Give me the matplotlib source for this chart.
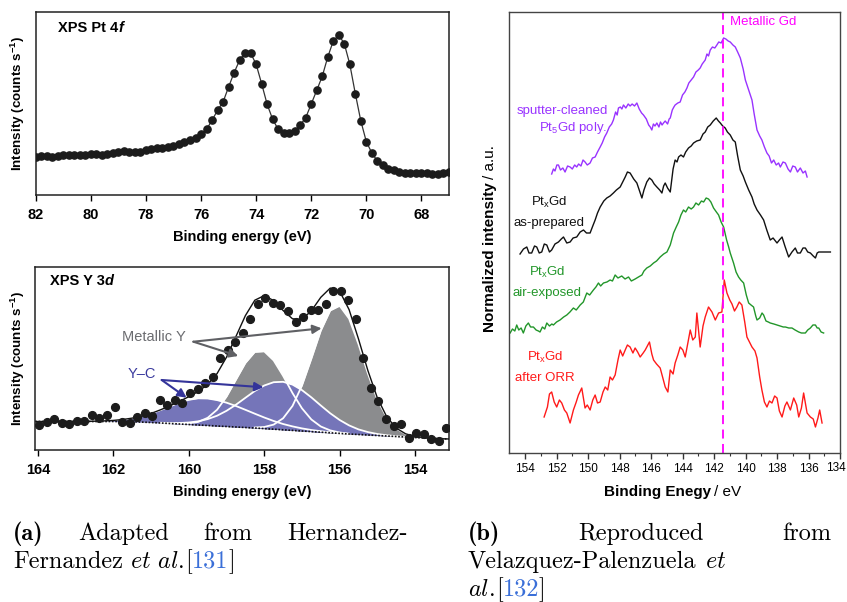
import numpy as np
import matplotlib
matplotlib.use("Agg")
import matplotlib.pyplot as plt

plt.rcParams["font.family"] = ["Liberation Sans", "DejaVu Sans"]
plt.rcParams["mathtext.fontset"] = "custom"
plt.rcParams["mathtext.rm"] = "Liberation Sans"
plt.rcParams["mathtext.it"] = "Liberation Sans:italic"
plt.rcParams["mathtext.bf"] = "Liberation Sans:bold"

# ---- data: XPS Pt 4f (dots every 0.2 eV)
pt_energy = np.linspace(82.0, 67.0, 76)
pt_counts = [38, 38.7, 39.3, 38.3, 39, 40, 40.3, 40, 39.7, 40.3,
             40.7, 40.7, 40, 41, 42, 43.3, 44.3, 42.7, 42.7, 43.3,
             44.7, 46, 47.3, 47.3, 47.7, 49.3, 51.3, 53.3, 55.3, 57.3,
             60.7, 65.7, 74.7, 84.7, 93, 108, 122.3, 134.7, 142.3, 142,
             130.7, 111.3, 90.7, 75.7, 65.7, 62, 62, 64, 70, 77.3,
             91, 104.7, 118.7, 138, 154, 160, 151.3, 130.7, 101.3, 74,
             53.3, 42, 34, 29.7, 26.3, 24.7, 23.3, 22.3, 22.3, 22,
             22, 21.7, 21.3, 21.3, 22.3, 23.3]

# ---- data: XPS Y 3d measured points
y_energy = np.linspace(163.97, 153.17, 55)
y_counts = [25, 28.3, 31, 26.7, 26, 29.3, 29, 35, 31.7, 35,
            42.7, 28.3, 27.3, 33.3, 36.7, 34.3, 50, 45, 50, 47.3,
            56.7, 61, 66.7, 72.7, 91.7, 100, 108.3, 117.3, 130.7, 145.7,
            151.7, 146.7, 145, 139.3, 127.7, 133.3, 140, 140, 145.7, 159.3,
            159.3, 150, 130.7, 91.7, 62.3, 49, 31, 24.3, 25.7, 11.7,
            16.7, 15.7, 11, 9, 21.7]

# fit components (height above background), 0.25 eV grid
fit_energy = np.linspace(164.25, 153.0, 46)
fit_bg = [28.5] * 9 + [28.5, 28.4, 28.2, 27.9, 27.5, 27.0, 26.5, 26.0, 25.5, 25.0,
                       24.5, 24.0, 23.5, 23.0, 22.5, 22.0, 21.4, 20.8, 20.2, 19.6,
                       19.0, 18.4, 17.8, 17.2, 16.6, 16.0, 15.5, 15.0, 14.5, 14.0,
                       13.5, 13.0, 12.5, 12.0, 11.6, 11.2, 10.9]
yc_low = [0, 0, 0, 0, 0, 0, 0.1, 0.3, 0.6,
          1.1, 2.1, 3.7, 6.0, 9.1, 13.0, 17.2, 21.4, 24.7, 26.7,
          27.0, 25.9, 23.8, 21.0, 17.7, 14.3, 11.1, 8.2, 5.8, 4.0,
          2.6, 1.6, 1.0, 0.5, 0.3, 0.1, 0, 0, 0, 0,
          0, 0, 0, 0, 0, 0, 0]
yc_high = [0] * 9 + [0, 0, 0, 0, 0, 0.2, 0.5, 1.0, 2.0, 3.7,
                     6.4, 10.3, 15.7, 22.3, 29.7, 37.0, 43.1, 47.0, 48.0, 45.8,
                     40.9, 34.2, 26.7, 19.5, 13.4, 8.6, 5.1, 2.9, 1.5, 0.7,
                     0.3, 0.1, 0, 0, 0, 0, 0]
ym_high = [0] * 9 + [0, 0, 0, 0, 0, 0, 0, 0.3, 1.1, 3.1,
                     7.7, 16.3, 29.9, 47.3, 64.5, 76.0, 77.2, 68.8, 54.0, 37.3,
                     22.7, 12.1, 5.7, 2.4, 0.9, 0.3, 0, 0, 0, 0,
                     0, 0, 0, 0, 0, 0, 0]
ym_low = [0] * 9 + [0, 0, 0, 0, 0, 0, 0, 0, 0, 0,
                    0, 0, 0, 0, 0, 0.5, 1.6, 4.6, 11.5, 24.5,
                    45.4, 72.9, 101.5, 122.3, 127.6, 115.4, 90.4, 61.4, 36.1, 18.4,
                    8.1, 3.1, 1.0, 0.3, 0, 0, 0]

# ---- data: Gd 4d spectra (panel b)
gd_clean_e = [152.31, 152.2, 152.1, 151.98, 151.88, 151.75, 151.6, 151.46, 151.3, 151.14,
              151.0, 150.85, 150.72, 150.6, 150.45, 150.32, 150.19, 150.05, 149.87, 149.72,
              149.55, 149.4, 149.23, 149.1, 148.95, 148.81, 148.65, 148.5, 148.39, 148.25,
              148.15, 148.07, 147.95, 147.85, 147.75, 147.6, 147.45, 147.33, 147.2, 147.05,
              146.9, 146.75, 146.6, 146.48, 146.3, 146.15, 146.05, 145.95, 145.85, 145.75,
              145.63, 145.5, 145.4, 145.3, 145.21, 145.1, 144.95, 144.85, 144.78, 144.65,
              144.55, 144.47, 144.3, 144.15, 144.0, 143.85, 143.72, 143.6, 143.45, 143.3,
              143.15, 143.0, 142.88, 142.75, 142.56, 142.45, 142.35, 142.24, 142.1, 141.95,
              141.82, 141.7, 141.55, 141.39, 141.25, 141.1, 140.97, 140.8, 140.65, 140.5,
              140.33, 140.15, 140.01, 139.8, 139.59, 139.45, 139.27, 139.1, 138.96, 138.8,
              138.64, 138.5, 138.35, 138.21, 138.05, 137.9, 137.79, 137.62, 137.47, 137.3,
              137.15, 137.0, 136.84, 136.7, 136.52, 136.35, 136.2, 136.09]
gd_clean_i = [278, 283, 281, 287, 287, 282, 284, 280, 286, 285,
              283, 287, 285, 288, 286, 292, 290, 287, 289, 294,
              295, 300, 305, 309, 315, 319, 325, 328, 332, 340,
              337, 344, 345, 343, 347, 344, 348, 346, 348, 346,
              349, 343, 339, 337, 333, 327, 325, 322, 328, 326,
              329, 325, 330, 327, 329, 331, 328, 333, 334, 342,
              345, 347, 349, 350, 357, 360, 364, 369, 372, 375,
              380, 382, 384, 388, 392, 398, 396, 402, 405, 404,
              407, 410, 409, 414, 413, 411, 410, 407, 405, 400,
              394, 383, 372, 362, 352, 338, 322, 316, 312, 305,
              299, 296, 289, 292, 287, 289, 285, 290, 289, 283,
              280, 286, 285, 280, 284, 279, 281, 275]

gd_prep_e = [154.32, 154.1, 153.89, 153.75, 153.58, 153.4, 153.26, 153.1, 152.94, 152.78,
             152.62, 152.45, 152.31, 152.1, 151.88, 151.7, 151.56, 151.35, 151.14, 150.95,
             150.72, 150.5, 150.29, 150.1, 149.87, 149.7, 149.55, 149.4, 149.23, 149.0,
             148.81, 148.6, 148.39, 148.2, 147.96, 147.8, 147.64, 147.5, 147.33, 147.1,
             146.9, 146.75, 146.58, 146.45, 146.27, 146.1, 145.95, 145.8, 145.63, 145.45,
             145.31, 145.2, 145.1, 144.95, 144.78, 144.6, 144.47, 144.35, 144.25, 144.1,
             143.94, 143.8, 143.62, 143.45, 143.3, 143.1, 142.88, 142.7, 142.56, 142.4,
             142.24, 142.05, 141.86, 141.72, 141.6, 141.45, 141.29, 141.15, 140.97, 140.8,
             140.65, 140.5, 140.33, 140.15, 140.01, 139.8, 139.59, 139.45, 139.27, 139.05,
             138.85, 138.65, 138.43, 138.25, 138.0, 137.85, 137.68, 137.5, 137.26, 137.05,
             136.84, 136.7, 136.52, 136.35, 136.2, 136.05, 135.88, 135.7, 135.56, 135.45,
             135.35, 134.61]
gd_prep_i = [198, 203, 205, 199, 199, 206, 205, 199, 200, 208,
             207, 200, 202, 208, 210, 213, 215, 209, 210, 214,
             215, 220, 222, 219, 219, 226, 232, 239, 245, 251,
             254, 256, 259, 262, 265, 270, 275, 280, 279, 273,
             269, 262, 254, 262, 270, 274, 272, 268, 265, 262,
             259, 266, 269, 264, 260, 283, 292, 290, 295, 297,
             295, 300, 304, 306, 309, 311, 312, 318, 320, 325,
             327, 331, 334, 331, 329, 326, 324, 320, 317, 312,
             310, 296, 282, 276, 270, 262, 255, 248, 242, 237,
             232, 222, 212, 214, 209, 212, 215, 206, 195, 200,
             204, 199, 199, 204, 204, 200, 199, 196, 194, 199,
             200, 200]

gd_air_e = [154.95, 154.8, 154.65, 154.53, 154.4, 154.25, 154.11, 153.95, 153.79, 153.65,
            153.47, 153.3, 153.15, 153.05, 152.9, 152.75, 152.62, 152.45, 152.3, 152.2,
            152.0, 151.78, 151.55, 151.35, 151.15, 150.93, 150.75, 150.5, 150.3, 150.08,
            149.9, 149.66, 149.5, 149.34, 149.2, 149.02, 148.8, 148.6, 148.45, 148.28,
            148.1, 147.86, 147.65, 147.43, 147.25, 147.01, 146.8, 146.58, 146.45, 146.27,
            146.05, 145.84, 145.65, 145.42, 145.2, 144.99, 144.78, 144.57, 144.4, 144.25,
            144.1, 143.94, 143.8, 143.62, 143.45, 143.3, 143.15, 142.98, 142.8, 142.66,
            142.5, 142.35, 142.2, 142.03, 141.85, 141.71, 141.55, 141.39, 141.2, 141.07,
            140.97, 140.76, 140.6, 140.44, 140.3, 140.12, 139.95, 139.8, 139.65, 139.49,
            139.35, 139.27, 139.1, 138.95, 138.85, 138.7, 138.55, 138.43, 138.2, 138.0,
            137.8, 137.6, 137.47, 137.25, 137.05, 136.85, 136.62, 136.45, 136.2, 136.05,
            135.88, 135.72, 135.56, 135.45, 135.35, 135.2, 135.04]
gd_air_i = [119, 123, 121, 127, 122, 124, 119, 126, 129, 125,
            125, 122, 121, 120, 125, 123, 129, 126, 128, 127,
            130, 132, 135, 137, 140, 144, 142, 147, 150, 159,
            157, 162, 165, 169, 166, 169, 170, 172, 171, 177,
            174, 176, 173, 175, 171, 173, 175, 177, 181, 184,
            186, 189, 191, 195, 198, 200, 207, 219, 225, 230,
            237, 242, 240, 245, 243, 245, 249, 247, 251, 250,
            254, 253, 250, 244, 240, 237, 230, 225, 212, 205,
            199, 189, 180, 175, 172, 169, 157, 149, 147, 145,
            136, 132, 134, 139, 137, 131, 130, 129, 128, 127,
            126, 125, 125, 124, 124, 122, 120, 119, 119, 122,
            124, 127, 127, 124, 124, 120, 119]

gd_orr_e = [152.79, 152.58, 152.45, 152.31, 152.15, 151.99, 151.82, 151.67, 151.5, 151.35,
            151.14, 150.93, 150.75, 150.61, 150.4, 150.19, 150.05, 149.87, 149.7, 149.55,
            149.4, 149.23, 149.05, 148.91, 148.75, 148.6, 148.45, 148.28, 148.1, 147.96,
            147.8, 147.64, 147.5, 147.33, 147.15, 147.01, 146.85, 146.69, 146.5, 146.37,
            146.1, 145.95, 145.84, 145.65, 145.42, 145.25, 145.1, 144.93, 144.78, 144.6,
            144.47, 144.3, 144.15, 143.98, 143.83, 143.65, 143.51, 143.35, 143.19, 143.09,
            142.88, 142.7, 142.56, 142.35, 142.13, 141.92, 141.71, 141.5, 141.35, 141.18,
            141.0, 140.86, 140.7, 140.55, 140.4, 140.23, 140.05, 139.91, 139.75, 139.59,
            139.4, 139.27, 139.1, 138.96, 138.8, 138.64, 138.48, 138.32, 138.15, 138.0,
            137.85, 137.68, 137.5, 137.37, 137.15, 136.94, 136.75, 136.62, 136.45, 136.31,
            136.09, 135.88, 135.7, 135.56, 135.4, 135.29, 135.14]
gd_orr_i = [35, 45, 58, 60, 50, 45, 52, 49, 42, 39,
            29, 42, 50, 57, 64, 44, 47, 42, 52, 57,
            49, 50, 60, 65, 62, 75, 72, 77, 92, 102,
            96, 102, 107, 105, 99, 104, 100, 95, 99, 102,
            110, 98, 92, 88, 84, 74, 65, 60, 82, 78,
            89, 97, 105, 102, 95, 110, 122, 112, 115, 139,
            105, 126, 135, 145, 140, 132, 139, 140, 172, 159,
            152, 148, 141, 145, 150, 147, 130, 115, 110, 105,
            101, 94, 75, 62, 50, 45, 51, 49, 56, 54,
            41, 35, 46, 50, 42, 54, 47, 35, 44, 59,
            39, 35, 33, 25, 34, 42, 29]

gd_metal = 141.4
b_ticks = np.arange(134, 155, 2)

W, H = 847, 602
fig = plt.figure(figsize=(W / 100, H / 100), dpi=100)
renderer = fig.canvas.get_renderer()


def chain(x, y, parts):
    # place text pieces one after another, x/y in figure pixels from top-left
    for s, gap, kw in parts:
        t = fig.text(x / W, 1 - y / H, s, va="baseline", ha="left", **kw)
        x = t.get_window_extent(renderer).x1 + gap
    return x


def justify(x0, x1, y, parts):
    # spread words evenly between x0 and x1 (like a justified LaTeX line)
    texts = [fig.text(0, 1 - y / H, s, va="baseline", ha="left", **kw) for s, kw in parts]
    widths = [t.get_window_extent(renderer).width for t in texts]
    gap = (x1 - x0 - sum(widths)) / (len(texts) - 1)
    x = x0
    for t, w in zip(texts, widths):
        t.set_x(x / W)
        x += w + gap


def style_xps(ax):
    for sp in ax.spines.values():
        sp.set_linewidth(1.1)
        sp.set_color("#222222")
    ax.set_yticks([])
    ax.tick_params(axis="x", direction="out", length=4, width=1, pad=5,
                   labelsize=10.5, top=False)
    for lb in ax.get_xticklabels():
        lb.set_fontweight("bold")


# ---------- panel (a) top: Pt 4f
ax1 = fig.add_axes([35.7 / W, 1 - 195 / H, 413.3 / W, 183 / H])
ax1.plot(pt_energy, pt_counts, color="#333333", lw=0.9, zorder=2)
ax1.plot(pt_energy, pt_counts, "o", color="#1c1c1c", ms=5.2, zorder=3)
ax1.set_xlim(82, 67)
ax1.set_ylim(0, 183)
ax1.set_xticks(np.arange(82, 67, -2))
style_xps(ax1)
ax1.set_xlabel("Binding energy (eV)", fontweight="bold", fontsize=10.5, labelpad=6)
chain(58, 32, [("XPS Pt 4", 0, dict(fontsize=10.5, fontweight="bold")),
               ("f", 0, dict(fontsize=10.5, fontweight="bold", fontstyle="italic"))])

# ---------- panel (a) bottom: Y 3d
ax2 = fig.add_axes([35 / W, 1 - 450 / H, 414 / W, 183 / H])
bg = np.array(fit_bg)
gray = "#8b8c8e"
blue = "#7575b9"
for comp, col in [(ym_high, gray), (ym_low, gray), (yc_low, blue), (yc_high, blue)]:
    c = np.array(comp)
    top = bg + c
    ax2.fill_between(fit_energy, bg, top, where=c > 0.05, color=col, lw=0, zorder=1)
    ax2.plot(fit_energy[c > 0.05], top[c > 0.05], color="white", lw=1.3, zorder=1.5)
envelope = bg + np.array(yc_low) + np.array(yc_high) + np.array(ym_high) + np.array(ym_low)
ax2.plot(fit_energy, bg, color="#111111", lw=1.2, ls=(0, (1, 1)), zorder=2)
ax2.plot(fit_energy, envelope, color="#111111", lw=1.0, zorder=2.5)
ax2.plot(y_energy, y_counts, "o", color="#1c1c1c", ms=5.6, zorder=3)
ax2.set_xlim(164.08, 153.1)
ax2.set_ylim(0, 183)
ax2.set_xticks(np.arange(164, 153, -2))
style_xps(ax2)
ax2.set_xlabel("Binding energy (eV)", fontweight="bold", fontsize=10.5, labelpad=6)
chain(50, 285, [("XPS Y 3", 0, dict(fontsize=10.5, fontweight="bold")),
                ("d", 0, dict(fontsize=10.5, fontweight="bold", fontstyle="italic"))])

ax2.text(161.77, 113, "Metallic Y", color="#6b6c70", fontsize=10.5, va="center", ha="left")
for end in [(156.48, 121.7), (158.69, 94)]:
    ax2.annotate("", xy=end, xytext=(159.88, 108.3),
                 arrowprops=dict(arrowstyle="-|>", color="#5f6064", lw=1.5,
                                 mutation_scale=13, shrinkA=0, shrinkB=0))
ax2.text(161.62, 76, "Y\u2013C", color="#3b3b9e", fontsize=10.5, va="center", ha="left")
for end in [(160.06, 52.3), (158.02, 62.7)]:
    ax2.annotate("", xy=end, xytext=(160.72, 70),
                 arrowprops=dict(arrowstyle="-|>", color="#34349a", lw=1.5,
                                 mutation_scale=13, shrinkA=0, shrinkB=0))

for y0 in (103.5, 358.5):
    fig.text(18 / W, 1 - y0 / H, "Intensity (counts s$^{\\mathbf{-1}}$)", rotation=90,
             ha="center", va="center", fontsize=9.6, fontweight="bold")

# ---------- panel (b): Gd 4d
ax3 = fig.add_axes([509 / W, 1 - 453 / H, 331 / W, 441 / H])
ax3.plot(gd_clean_e, gd_clean_i, color="#9933ff", lw=1.0)
ax3.plot(gd_prep_e, gd_prep_i, color="#111111", lw=1.0)
ax3.plot(gd_air_e, gd_air_i, color="#22962a", lw=1.0)
ax3.plot(gd_orr_e, gd_orr_i, color="#ff1a1a", lw=1.0)
ax3.axvline(gd_metal, color="#ff00ff", lw=1.3, ls=(0, (5, 3)))
ax3.set_xlim(155.02, 134.0)
ax3.set_ylim(-1, 440)
ax3.set_xticks(b_ticks)
ax3.set_xticklabels([str(v) if v != 134 else "" for v in b_ticks])
ax3.set_xticks(np.arange(135, 155, 2), minor=True)
ax3.set_yticks([])
ax3.tick_params(axis="x", which="major", direction="out", length=4, width=1,
                labelsize=8.5, pad=3, color="#333333")
ax3.tick_params(axis="x", which="minor", direction="out", length=2.5, width=0.8,
                color="#333333")
for sp in ax3.spines.values():
    sp.set_color("#444444")
    sp.set_linewidth(1.0)
# last tick label pulled in so it stays inside the figure
fig.text(846 / W, 1 - 468 / H, "134", fontsize=8.5, ha="right", va="center")

ax3.text(140.97, 430, "Metallic Gd", color="#ff00ff", fontsize=9.5, va="center")
lab = dict(fontsize=9.5, ha="right", va="center")
ax3.text(148.72, 341, "sputter-cleaned", color="#9933ff", **lab)
ax3.text(148.75, 324, "Pt$_5$Gd poly.", color="#9933ff", **lab)
lab = dict(fontsize=9.5, ha="center", va="center")
ax3.text(152.47, 250, "Pt$_{\\mathrm{x}}$Gd", color="#111111", **lab)
ax3.text(152.47, 229, "as-prepared", color="#111111", **lab)
ax3.text(152.6, 180, "Pt$_{\\mathrm{x}}$Gd", color="#22962a", **lab)
ax3.text(152.6, 159, "air-exposed", color="#22962a", **lab)
ax3.text(152.73, 95, "Pt$_{\\mathrm{x}}$Gd", color="#ff1a1a", **lab)
ax3.text(152.73, 74, "after ORR", color="#ff1a1a", **lab)

chain(604, 496, [("Binding Enegy", 3, dict(fontsize=11, fontweight="bold")),
                 ("/ eV", 0, dict(fontsize=11))])
t1 = fig.text(490 / W, 1 - 332 / H, "Normalized intensity", rotation=90, ha="center",
              va="bottom", fontsize=11, fontweight="bold")
y1 = t1.get_window_extent(renderer).y1
fig.text(490 / W, (y1 + 3) / H, "/ a.u.", rotation=90, ha="center", va="bottom", fontsize=11)

# ---------- captions
cap = dict(fontsize=17.5, family="cmr10")
capb = dict(fontsize=17.5, family="cmb10")
capi = dict(fontsize=17.5, math_fontfamily="cm")
capc = dict(fontsize=17.5, family="cmr10", color="#3a6fd8")
justify(13, 408, 540, [("(a)", capb), ("Adapted", cap), ("from", cap), ("Hernandez-", cap)])
chain(13, 568, [("Fernandez", 7, cap), (r"$\mathit{et\ al.}$", 1, capi), ("[", 0, cap),
                ("131", 0, capc), ("]", 0, cap)])
justify(468, 831, 540, [("(b)", capb), ("Reproduced", cap), ("from", cap)])
chain(468, 568, [("Velazquez-Palenzuela", 8, cap), (r"$\mathit{et}$", 0, capi)])
chain(468, 596, [(r"$\mathit{al.}$", 1, capi), ("[", 0, cap), ("132", 0, capc), ("]", 0, cap)])

fig.savefig("out.png", dpi=100)
